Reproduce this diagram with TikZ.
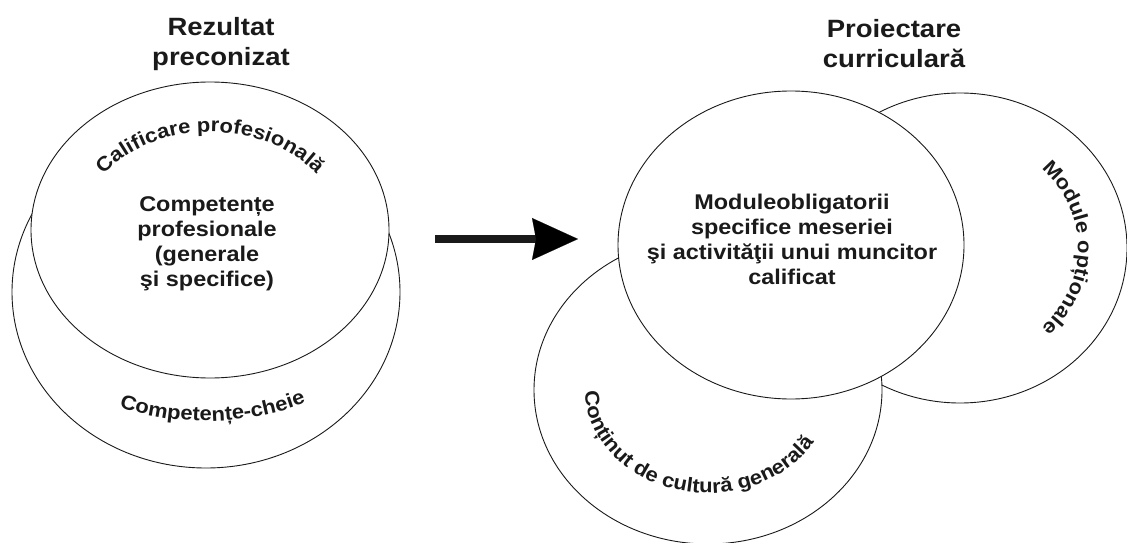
\documentclass[tikz,border=0pt]{standalone}
\usepackage{fontspec}
\setmainfont{Liberation Sans}[FakeStretch=1.1]
\usetikzlibrary{shapes.geometric,decorations.text,arrows.meta,calc}
\definecolor{ink}{HTML}{1A1A1A}
\newcommand\arcfont{\fontsize{20}{24}\selectfont\bfseries}
\begin{document}
\begin{tikzpicture}[x=1pt,y=1pt,
  region/.style={ellipse, draw=ink, line width=0.9pt, fill=white, inner sep=0pt, outer sep=0pt},
  titletext/.style={align=center, text=ink, font=\fontsize{25}{30}\selectfont\bfseries},
  innertext/.style={align=center, text=ink, font=\fontsize{21.3}{25}\selectfont\bfseries},
  arctext/.style={decorate, decoration={text along path, text align=center, text color=ink, text={#1}}},
  bigarrow/.style={line width=8pt, draw=ink, -{Stealth[length=46pt,width=42pt,inset=4pt,line width=0.1pt]}}
]
\fill[white] (0,0) rectangle (1127,542);
\useasboundingbox (0,0) rectangle (1127,542);

% left group
\node[region, minimum width=388pt, minimum height=352pt] (back) at (206,250) {};
\node[region, minimum width=358pt, minimum height=296pt] (front) at (210,312) {};
\node[titletext] (lefttitle) at (221,498.3) {Rezultat\\preconizat};
\node[innertext] (leftinner) at (207,298) {Competențe\\profesionale\\(generale\\şi specifice)};
\path[arctext={|\arcfont|Calificare profesională}]
  ($(front.center)+(147:129 and 98)$) arc[start angle=147, end angle=33, x radius=129, y radius=98];
\path[arctext={|\arcfont|Competențe-cheie}]
  ($(back.center)+(225:193 and 129)$) arc[start angle=225, end angle=320, x radius=193, y radius=129];

% arrow
\coordinate (arrowtail) at (435,303);
\coordinate (arrowtip) at (578,303);
\draw[bigarrow] (arrowtail) -- (arrowtip);

% right group
\node[region, minimum width=334pt, minimum height=310pt] (opt) at (960,294) {};
\node[region, minimum width=348pt, minimum height=308pt] (gen) at (708,152) {};
\node[region, minimum width=346pt, minimum height=308pt] (main) at (791,297) {};
\node[titletext] (righttitle) at (894,498) {Proiectare\\curriculară};
\node[innertext] (maininner) at (792,303) {Moduleobligatorii\\specifice meseriei\\şi activităţii unui muncitor\\calificat};
\path[arctext={|\arcfont|Module opționale}]
  ($(opt.center)+(65:118 and 110)$) arc[start angle=65, end angle=-65, x radius=118, y radius=110];
\path[arctext={|\arcfont|Conținut de cultură generală}]
  ($(gen.center)+(170:123 and 103)$) arc[start angle=170, end angle=340, x radius=123, y radius=103];
\end{tikzpicture}
\end{document}
